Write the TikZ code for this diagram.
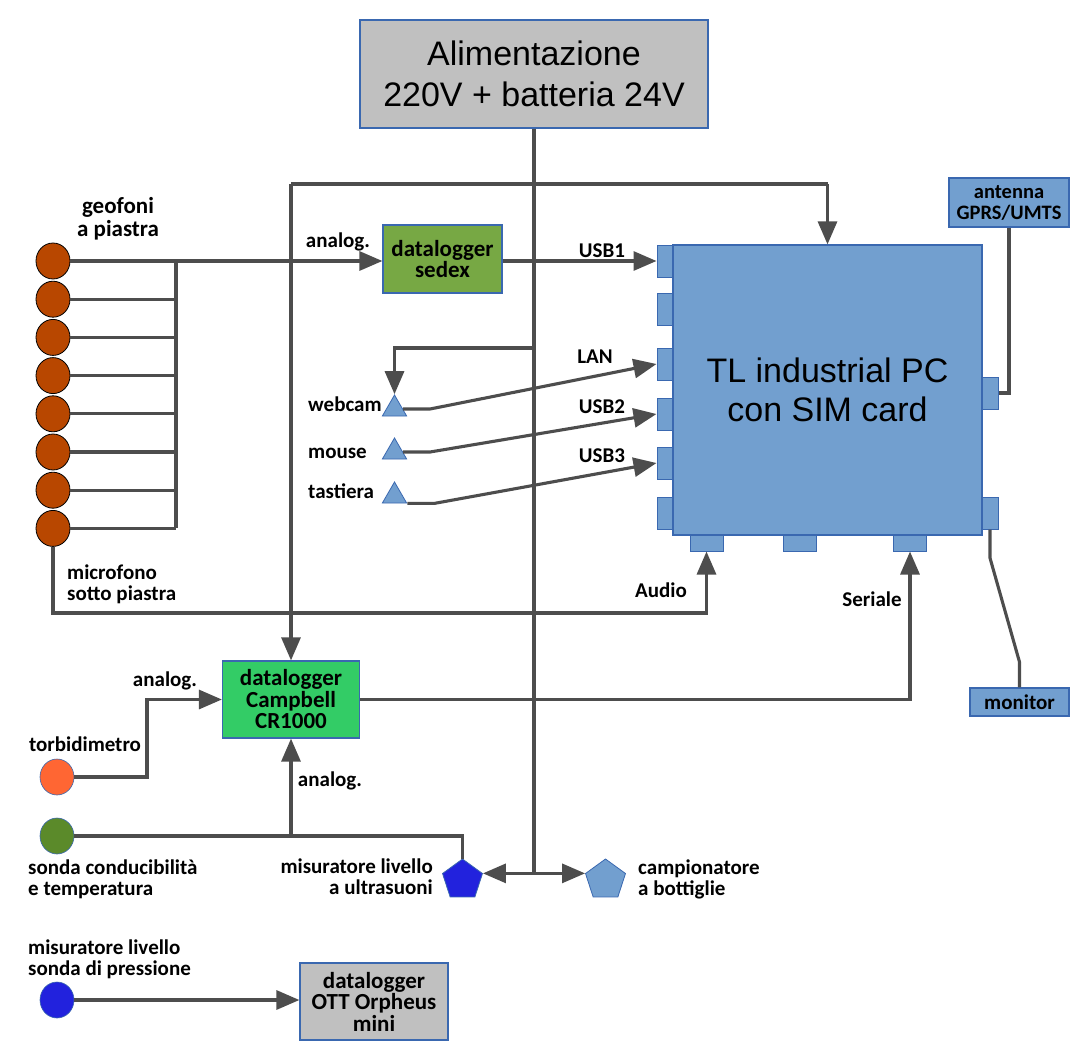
\documentclass[tikz,border=0pt]{standalone}
\usepackage{fontspec}
\setmainfont{Carlito}
\newfontfamily\arialfont{Liberation Sans}
\usetikzlibrary{arrows.meta,shapes.geometric}
\definecolor{bord}{HTML}{3A68B0}
\definecolor{pcblue}{HTML}{729FCF}
\definecolor{grayfill}{HTML}{C0C0C0}
\definecolor{sedexg}{HTML}{77A844}
\definecolor{campg}{HTML}{33CC66}
\definecolor{geob}{HTML}{B84700}
\definecolor{torbc}{HTML}{FF6633}
\definecolor{sondag}{HTML}{5B8A2A}
\definecolor{deepblue}{HTML}{2222DD}
\definecolor{wirec}{HTML}{4D4D4D}
\begin{document}
\begin{tikzpicture}[x=1pt,y=-1pt,
  lbl/.style={font=\bfseries\fontsize{21}{21}\selectfont, inner sep=0pt, align=center},
  box/.style={draw=bord, line width=1.2pt, inner sep=0pt, align=center, font=\bfseries\fontsize{23}{21.5}\selectfont},
  bigbox/.style={draw=bord, line width=1.2pt, inner sep=0pt, align=center, font=\arialfont\fontsize{34}{41}\selectfont},
  port/.style={draw=bord, line width=1pt, fill=pcblue, inner sep=0pt},
  vport/.style={port, minimum width=16pt, minimum height=32pt},
  hport/.style={port, minimum width=33pt, minimum height=16pt},
  sensor/.style={ellipse, minimum width=34pt, minimum height=36pt, inner sep=0pt, draw=bord, line width=0.6pt},
  geo/.style={sensor, draw=black, line width=0.8pt, fill=geob},
  tri/.style={regular polygon, regular polygon sides=3, minimum size=28pt, inner sep=0pt, draw=bord, line width=0.8pt, fill=pcblue},
  penta/.style={regular polygon, regular polygon sides=5, minimum size=42pt, inner sep=0pt, draw=bord, line width=0.8pt},
  wire/.style={draw=wirec, line width=3.1pt},
  arr/.style={wire, -{Triangle[length=23pt,width=19pt]}},
  darr/.style={wire, {Triangle[length=23pt,width=19pt]}-{Triangle[length=23pt,width=19pt]}}
]
\fill[white] (0,0) rectangle (1092,1062);
\useasboundingbox (0,0) rectangle (1092,1062);

% main boxes
\node[bigbox, fill=grayfill, minimum width=348pt, minimum height=108pt] (power) at (534,74) {Alimentazione\\220V + batteria 24V};

% PC ports
\node[vport] (pL1) at (665,261) {};
\node[vport] (pL2) at (665,309) {};
\node[vport] (pL3) at (665,364) {};
\node[vport] (pL4) at (665,414) {};
\node[vport] (pL5) at (665,463) {};
\node[vport] (pL6) at (665,513) {};
\node[vport] (pR1) at (990,393) {};
\node[vport] (pR2) at (990,513) {};
\node[hport] (pB1) at (706.5,543) {};
\node[hport] (pB2) at (800,543) {};
\node[hport] (pB3) at (910,543) {};
\node[bigbox, fill=pcblue, minimum width=309pt, minimum height=290pt, font=\arialfont\fontsize{34}{39}\selectfont] (pc) at (827.5,390) {TL industrial PC\\con SIM card};

\node[box, fill=pcblue, minimum width=120pt, minimum height=49pt, font=\bfseries\fontsize{20.5}{21}\selectfont] (ant) at (1009,202.5) {antenna\\GPRS/UMTS};
\node[box, fill=pcblue, minimum width=99pt, minimum height=28pt, font=\bfseries\fontsize{21}{21}\selectfont] (mon) at (1019.5,702) {monitor};
\node[box, fill=sedexg, minimum width=119pt, minimum height=68pt] (sedex) at (442.5,259) {datalogger\\sedex};
\node[box, fill=campg, minimum width=137pt, minimum height=77pt] (camp) at (291,699.5) {datalogger\\Campbell\\CR1000};
\node[box, fill=grayfill, minimum width=148pt, minimum height=77pt] (ott) at (374,1001.5) {datalogger\\OTT Orpheus\\mini};

% geofoni
\node[geo] (g1) at (53,261) {};
\node[geo] (g2) at (53,299.2) {};
\node[geo] (g3) at (53,337.4) {};
\node[geo] (g4) at (53,375.6) {};
\node[geo] (g5) at (53,413.8) {};
\node[geo] (g6) at (53,452) {};
\node[geo] (g7) at (53,490.2) {};
\node[geo] (g8) at (53,528.4) {};

% other sensors
\node[sensor, fill=torbc] (torb) at (57,777) {};
\node[sensor, fill=sondag] (sonda) at (57,836) {};
\node[sensor, fill=deepblue] (press) at (57,1000) {};
\node[tri] (webcam) at (394.5,409) {};
\node[tri] (mouse) at (394.5,452) {};
\node[tri] (tast) at (394.5,496) {};
\node[penta, fill=deepblue] (ultra) at (462.5,880) {};
\node[penta, fill=pcblue] (campi) at (605.5,880) {};

% labels
\node[lbl, font=\bfseries\fontsize{23}{23}\selectfont] (lgeo) at (118,219) {geofoni\\a piastra};
\node[lbl] (lan1) at (338,242) {analog.};
\node[lbl] (lusb1) at (602,251) {USB1};
\node[lbl] (llan) at (595,357) {LAN};
\node[lbl] (lusb2) at (602,407) {USB2};
\node[lbl] (lusb3) at (602,456) {USB3};
\node[lbl, anchor=west] (lweb) at (308,404) {webcam};
\node[lbl, anchor=west] (lmou) at (308,453) {mouse};
\node[lbl, anchor=west] (ltas) at (308,491) {tastiera};
\node[lbl, anchor=west, align=left] (lmic) at (67,584) {microfono\\sotto piastra};
\node[lbl] (laud) at (661,590) {Audio};
\node[lbl] (lser) at (872,599) {Seriale};
\node[lbl] (lan2) at (165,681) {analog.};
\node[lbl] (ltorb) at (85,744) {torbidimetro};
\node[lbl] (lan3) at (330,781) {analog.};
\node[lbl, anchor=west, align=left] (lsonda) at (28,879) {sonda conducibilità\\e temperatura};
\node[lbl, anchor=east, align=right] (lultra) at (433,877) {misuratore livello\\a ultrasuoni};
\node[lbl, anchor=west, align=left] (lcampi) at (638,879) {campionatore\\a bottiglie};
\node[lbl, anchor=west, align=left] (lpress) at (28,959) {misuratore livello\\sonda di pressione};

% coordinates
\coordinate (tl) at (291,184);
\coordinate (tr) at (827.5,184);
\coordinate (bus) at (176,0);
\coordinate (micc) at (400,613);
\coordinate (lanj) at (534,348);
\coordinate (m1) at (990,558);
\coordinate (m2) at (1019.5,662);
\coordinate (tb) at (147,740);

% power distribution
\draw[wire] (power.south) -- (power.south |- ultra.corner 5);
\draw[wire] (tl) -- (tr);
\draw[arr] (tr) -- (pc.north);
\draw[arr] (tl) -- (camp.north);
\draw[arr] (lanj) -| (webcam.north);
\draw[darr] (ultra.corner 5) -- (campi.corner 2);

% geofoni
\draw[wire] (g1 -| bus) -- (g8 -| bus);
\draw[arr] (g1.east) -- (g1 -| sedex.west);
\draw[wire] (g2.east) -- (g2 -| bus);
\draw[wire] (g3.east) -- (g3 -| bus);
\draw[wire] (g4.east) -- (g4 -| bus);
\draw[wire] (g5.east) -- (g5 -| bus);
\draw[wire] (g6.east) -- (g6 -| bus);
\draw[wire] (g7.east) -- (g7 -| bus);
\draw[wire] (g8.east) -- (g8 -| bus);
\draw[arr] (g8.south) |- (micc) -| (pB1.south);

% PC connections
\draw[arr] (sedex.east |- pL1.west) -- (pL1.west);
\draw[arr] (webcam.east) -- ++(27,0) -- (pL3.west);
\draw[arr] (mouse.east) -- ++(27,0) -- (pL4.west);
\draw[arr] (tast.corner 3) -- ++(27,0) -- (pL5.west);
\draw[arr] (camp.east) -| (pB3.south);
\draw[wire] (ant.south) |- (pR1.east);
\draw[wire] (pR2.south) -- (m1) -- (m2) -- (mon.north);

% sensors to dataloggers
\draw[arr] (torb.east) -| (tb) |- (camp.west);
\draw[wire] (sonda.east) -| (ultra.north);
\draw[arr] (sonda.east -| camp.south) -- (camp.south);
\draw[arr] (press.east) -- (press.east -| ott.west);
\end{tikzpicture}
\end{document}
